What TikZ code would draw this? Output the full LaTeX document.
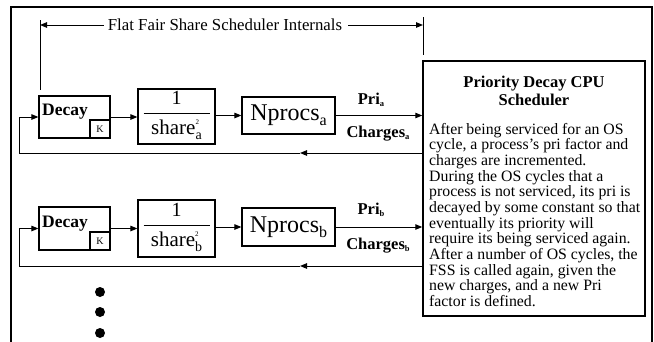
\documentclass[tikz,border=0pt]{standalone}
\usepackage{fontspec}
\setmainfont{Liberation Serif}
\usetikzlibrary{arrows.meta,calc}

\newcommand{\fsz}[1]{\fontsize{#1}{#1}\selectfont}

\tikzset{
  box/.style={draw, line width=1.2pt, inner sep=0pt},
  conn/.style={line width=1pt, -{Triangle[length=7pt,width=5.5pt]}},
  plain/.style={line width=1pt},
  lbl/.style={inner sep=0pt, font=\fsz{16.5}\bfseries},
}

\begin{document}
\begin{tikzpicture}[x=1pt,y=-1pt]
\useasboundingbox (0,0) rectangle (654,341);
\fill[white] (0,0) rectangle (654,341);

% outer frame (open at the bottom edge)
\draw[line width=1.3pt] (11,345) -- (11,7) -- (652,7) -- (652,345);

% span of the fair share scheduler
\coordinate (brL) at (40,20);
\coordinate (brLb) at (40,90);
\coordinate (brR) at (423,17);
\coordinate (brRb) at (423,55);
\node[inner sep=0pt, font=\fsz{16.8}] (flat) at (225,25) {Flat Fair Share Scheduler Internals};
\draw[plain] (brL) -- (brLb);
\draw[plain] (brR) -- (brRb);
\draw[conn] ([xshift=-4pt]flat.west) -- (flat.west -| brL);
\draw[conn] ([xshift=6pt]flat.east) -- (flat.east -| brR);

% priority decay scheduler
\node[box, line width=1.5pt, minimum width=222pt, minimum height=255pt] (sched) at (534,188.5) {};
\node[inner sep=0pt, align=center, font=\fontsize{16.5}{18}\selectfont\bfseries] (schedtitle) at (534,91)
  {Priority Decay CPU\\Scheduler};
\node[inner sep=0pt, anchor=north west, align=left, font=\fontsize{15.8}{15.65}\selectfont] (schedtext) at (429,123)
  {After being serviced for an OS\\
   cycle, a process’s pri factor and\\
   charges are incremented.\\
   During the OS cycles that a\\
   process is not serviced, its pri is\\
   decayed by some constant so that\\
   eventually its priority will\\
   require its being serviced again.\\
   After a number of OS cycles, the\\
   FSS is called again, given the\\
   new charges, and a new Pri\\
   factor is defined.};

% ---- process a ----
\node[box, minimum width=71pt, minimum height=42pt] (decayA) at (74.5,117) {};
\node[inner sep=0pt, anchor=west, font=\fsz{17.5}\bfseries] (decayAt) at (42,112) {Decay};
\node[box, anchor=south east, minimum width=20pt, minimum height=18pt, font=\fsz{10}] (kA) at (decayA.south east) {K};

\node[box, minimum width=77pt, minimum height=55pt] (fracA) at (176.5,116.5) {};
\node[inner sep=0pt, font=\fsz{20}] (oneA) at (176.5,98) {1};
\draw[line width=1pt] ([shift={(-33,-3.5)}]fracA.center) -- ([shift={(33,-3.5)}]fracA.center);
\node[inner sep=0pt, font=\fsz{21}] (shareA) at (176.5,130)
  {share\rlap{\raisebox{10pt}{\fsz{7}2}}\raisebox{-5pt}{\fsz{14}a}};

\node[box, minimum width=93pt, minimum height=37pt, font=\fsz{24}] (nprocsA) at (288.5,115.5)
  {Nprocs\raisebox{-5pt}{\fsz{16}a}};

\draw[conn] (decayA.east) -- (decayA.east -| fracA.west);
\draw[conn] (fracA.east |- nprocsA.west) -- (nprocsA.west);
\draw[conn] (nprocsA.east) -- (nprocsA.east -| sched.west);
\node[lbl] (priA) at (371,100) {Pri\raisebox{-2pt}{\fsz{8.5}a}};
\node[lbl] (chgA) at (378,134) {Charges\raisebox{-2pt}{\fsz{8.5}a}};

\coordinate (fbA) at (19,153);
\coordinate (fbAmid) at (300,153);
\draw[conn] (fbA -| sched.west) -- (fbAmid);
\draw[plain] (fbAmid) -- (fbA) -- (fbA |- decayA.west);
\draw[conn] (fbA |- decayA.west) -- (decayA.west);

% ---- process b ----
\node[box, minimum width=71pt, minimum height=43pt] (decayB) at (74.5,228.5) {};
\node[inner sep=0pt, anchor=west, font=\fsz{17.5}\bfseries] (decayBt) at (42,223.5) {Decay};
\node[box, anchor=south east, minimum width=20pt, minimum height=18pt, font=\fsz{10}] (kB) at (decayB.south east) {K};

\node[box, minimum width=77pt, minimum height=57pt] (fracB) at (176.5,228.5) {};
\node[inner sep=0pt, font=\fsz{20}] (oneB) at (176.5,210) {1};
\draw[line width=1pt] ([shift={(-33,-3.5)}]fracB.center) -- ([shift={(33,-3.5)}]fracB.center);
\node[inner sep=0pt, font=\fsz{21}] (shareB) at (176.5,242)
  {share\rlap{\raisebox{10pt}{\fsz{7}2}}\raisebox{-5pt}{\fsz{14}b}};

\node[box, minimum width=93pt, minimum height=38pt, font=\fsz{24}] (nprocsB) at (288.5,227)
  {Nprocs\raisebox{-5pt}{\fsz{16}b}};

\draw[conn] (decayB.east) -- (decayB.east -| fracB.west);
\draw[conn] (fracB.east |- nprocsB.west) -- (nprocsB.west);
\draw[conn] (nprocsB.east) -- (nprocsB.east -| sched.west);
\node[lbl] (priB) at (371,210) {Pri\raisebox{-2pt}{\fsz{8.5}b}};
\node[lbl] (chgB) at (378,246) {Charges\raisebox{-2pt}{\fsz{8.5}b}};

\coordinate (fbB) at (19,266);
\coordinate (fbBmid) at (300,266);
\draw[conn] (fbB -| sched.west) -- (fbBmid);
\draw[plain] (fbBmid) -- (fbB) -- (fbB |- decayB.west);
\draw[conn] (fbB |- decayB.west) -- (decayB.west);

% further processes
\foreach \yy/\nm in {292/d1,312/d2,333/d3}
  \node[circle, fill, inner sep=0pt, minimum size=10pt] (\nm) at (100,\yy) {};
\end{tikzpicture}
\end{document}
